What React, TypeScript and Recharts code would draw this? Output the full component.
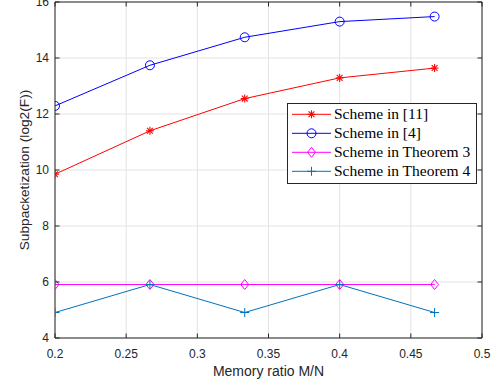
import React from 'react';
import { LineChart, Line, XAxis, YAxis, CartesianGrid, Legend } from 'recharts';

const memoryRatio = [0.2, 0.2667, 0.3333, 0.4, 0.4667];
const scheme11 = [9.85, 11.4, 12.55, 13.29, 13.64];
const scheme4 = [12.29, 13.74, 14.74, 15.3, 15.48];
const theorem3 = [5.91, 5.91, 5.91, 5.91, 5.91];
const theorem4 = [4.91, 5.91, 4.91, 5.91, 4.91];
const xTicks = [0.2, 0.25, 0.3, 0.35, 0.4, 0.45, 0.5];
const yTicks = [4, 6, 8, 10, 12, 14, 16];
const seriesNames = ['Scheme in [11]', 'Scheme in [4]', 'Scheme in Theorem 3', 'Scheme in Theorem 4'];
const seriesColors = ['#ff0000', '#0000ff', '#ff00ff', '#0072bd'];
const seriesKeys = ['s11', 's4', 't3', 't4'];

const data = memoryRatio.map((x, i) => ({
  x,
  s11: scheme11[i],
  s4: scheme4[i],
  t3: theorem3[i],
  t4: theorem4[i],
}));

const AX = '#262626';
const SANS = '"Liberation Sans", Arial, Helvetica, sans-serif';
const SERIF = '"Liberation Serif", "Times New Roman", serif';

type MP = { cx: number; cy: number; color: string };
const Star = ({ cx, cy, color }: MP) => {
  const r = 4;
  const d = 2.9;
  return (
    <g stroke={color} strokeWidth={1.1} fill="none">
      <line x1={cx - r} y1={cy} x2={cx + r} y2={cy} />
      <line x1={cx} y1={cy - r} x2={cx} y2={cy + r} />
      <line x1={cx - d} y1={cy - d} x2={cx + d} y2={cy + d} />
      <line x1={cx - d} y1={cy + d} x2={cx + d} y2={cy - d} />
    </g>
  );
};
const Circ = ({ cx, cy, color }: MP) => (
  <circle cx={cx} cy={cy} r={4.5} stroke={color} strokeWidth={1} fill="none" />
);
const Diam = ({ cx, cy, color }: MP) => (
  <polygon
    points={`${cx},${cy - 5} ${cx + 4},${cy} ${cx},${cy + 5} ${cx - 4},${cy}`}
    stroke={color}
    strokeWidth={1}
    fill="none"
  />
);
const Plus = ({ cx, cy, color }: MP) => (
  <g stroke={color} strokeWidth={1} fill="none">
    <line x1={cx - 4.5} y1={cy} x2={cx + 4.5} y2={cy} />
    <line x1={cx} y1={cy - 4.5} x2={cx} y2={cy + 4.5} />
  </g>
);
const markers = [Star, Circ, Diam, Plus];

const makeDot = (idx: number) => (p: any) => {
  const M = markers[idx];
  if (p.cx == null || p.cy == null) return <g key={p.index} />;
  return (
    <g key={`d${idx}-${p.index}`}>
      <M cx={p.cx} cy={p.cy} color={seriesColors[idx]} />
    </g>
  );
};

const BottomTick = (p: any) => (
  <g>
    <line x1={p.x} y1={p.y} x2={p.x} y2={p.y - 4.5} stroke={AX} />
    <text x={p.x} y={p.y + 19.5} textAnchor="middle" fontSize={12} fill={AX} fontFamily={SANS}>
      {String(p.payload.value)}
    </text>
  </g>
);
const TopTick = (p: any) => (
  <g>
    <line x1={p.x} y1={p.y} x2={p.x} y2={p.y + 4.5} stroke={AX} />
  </g>
);
const LeftTick = (p: any) => (
  <g>
    <line x1={p.x} y1={p.y} x2={p.x + 4.5} y2={p.y} stroke={AX} />
    <text x={p.x - 6} y={p.y + 4.2} textAnchor="end" fontSize={12} fill={AX} fontFamily={SANS}>
      {String(p.payload.value)}
    </text>
  </g>
);
const RightTick = (p: any) => (
  <g>
    <line x1={p.x} y1={p.y} x2={p.x - 4.5} y2={p.y} stroke={AX} />
  </g>
);

const LegendBox = () => (
  <div
    style={{
      width: 190,
      height: 81,
      boxSizing: 'border-box',
      border: `1px solid ${AX}`,
      background: '#fff',
    }}
  >
    <svg width={188} height={79} style={{ display: 'block' }}>
      {seriesNames.map((name, i) => {
        const cy = 10.3 + i * 19;
        const M = markers[i];
        return (
          <g key={name}>
            <line x1={4} y1={cy} x2={43} y2={cy} stroke={seriesColors[i]} strokeWidth={1} />
            <M cx={23.5} cy={cy} color={seriesColors[i]} />
            <text x={46} y={cy + 5} fontSize={15.5} fill="#000" fontFamily={SERIF}>
              {name}
            </text>
          </g>
        );
      })}
    </svg>
  </div>
);

export default function App() {
  return (
    <div style={{ position: 'absolute', left: 0, top: 0, width: 500, height: 385, background: '#fff' }}>
      <LineChart width={500} height={385} data={data} margin={{ top: 0, right: 0, bottom: 0, left: 0 }}>
        <CartesianGrid stroke="#e3e3e3" strokeWidth={1} />
        <XAxis
          dataKey="x"
          type="number"
          domain={[0.2, 0.5]}
          ticks={xTicks}
          interval={0}
          height={47}
          stroke={AX}
          tickLine={false}
          tickSize={0}
          tickMargin={0}
          tick={BottomTick}
          allowDataOverflow
          label={(props: any) => {
            const vb = props.viewBox || {};
            const cx = (vb.x ?? 55) + (vb.width ?? 427) / 2;
            const top = vb.y ?? 338;
            return (
              <text x={cx} y={top + 38} textAnchor="middle" fontSize={14} fill={AX} fontFamily={SANS}>
                Memory ratio M/N
              </text>
            );
          }}
        />
        <XAxis
          xAxisId="top"
          orientation="top"
          dataKey="x"
          type="number"
          domain={[0.2, 0.5]}
          ticks={xTicks}
          interval={0}
          height={2}
          stroke={AX}
          tickLine={false}
          tickSize={0}
          tickMargin={0}
          tick={TopTick}
          allowDataOverflow
        />
        <YAxis
          type="number"
          domain={[4, 16]}
          ticks={yTicks}
          interval={0}
          width={55}
          stroke={AX}
          tickLine={false}
          tickSize={0}
          tickMargin={0}
          tick={LeftTick}
          allowDataOverflow
          label={(props: any) => {
            const vb = props.viewBox || {};
            const cy = (vb.y ?? 2) + (vb.height ?? 336) / 2;
            return (
              <text
                x={28.5}
                y={cy}
                transform={`rotate(-90, 28.5, ${cy})`}
                textAnchor="middle"
                fontSize={13.7}
                fill={AX}
                fontFamily={SANS}
              >
                Subpacketization (log2(F))
              </text>
            );
          }}
        />
        <YAxis
          yAxisId="right"
          orientation="right"
          type="number"
          domain={[4, 16]}
          ticks={yTicks}
          interval={0}
          width={18}
          stroke={AX}
          tickLine={false}
          tickSize={0}
          tickMargin={0}
          tick={RightTick}
          allowDataOverflow
        />
        {seriesKeys.map((k, i) => (
          <Line
            key={k}
            dataKey={k}
            name={seriesNames[i]}
            stroke={seriesColors[i]}
            strokeWidth={1}
            dot={makeDot(i)}
            activeDot={false}
            isAnimationActive={false}
          />
        ))}
        <Legend
          layout="vertical"
          align="center"
          verticalAlign="middle"
          content={() => <LegendBox />}
          wrapperStyle={{ left: 287, top: 103, width: 190, height: 81, right: 'auto', bottom: 'auto' }}
        />
      </LineChart>
    </div>
  );
}
